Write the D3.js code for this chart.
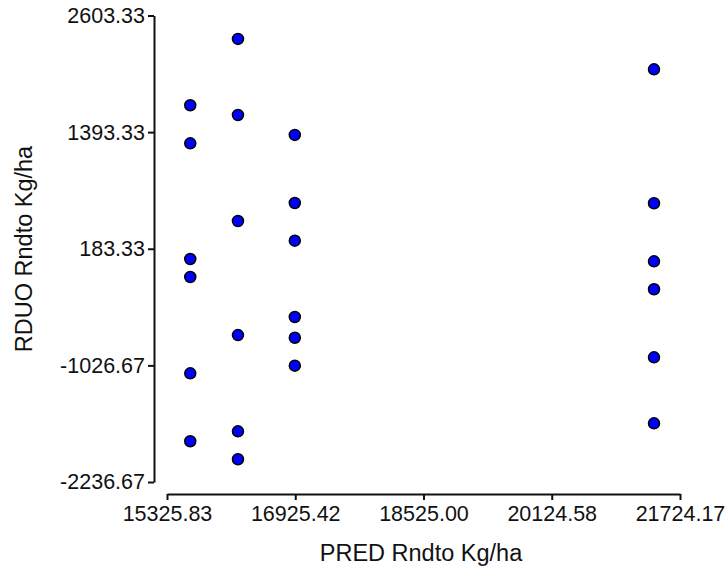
<!DOCTYPE html>
<html>
<head>
<meta charset="utf-8">
<script src="https://cdn.jsdelivr.net/npm/d3@7/dist/d3.min.js"></script>
<style>
  html, body { margin: 0; padding: 0; background: #fff; }
  svg { display: block; }
  text { font-family: "Liberation Sans", Arial, sans-serif; fill: #111; }
</style>
</head>
<body>
<svg id="chart" width="725" height="574"></svg>
<script>
// Predicted yield (x) against residual (y), both in Kg/ha
const predValues = [
  15616, 15616, 15616, 15616, 15616, 15616,
  16211, 16211, 16211, 16211, 16211, 16211,
  16920, 16920, 16920, 16920, 16920, 16920,
  21400, 21400, 21400, 21400, 21400, 21400
];
const residValues = [
  1672, 1277, 77, -110, -1109, -1814,
  2360, 1571, 471, -712, -1711, -2001,
  1364, 658, 267, -525, -740, -1030,
  2045, 655, 53, -237, -943, -1628
];
const xTicks = [15325.83, 16925.42, 18525.00, 20124.58, 21724.17];
const yTicks = [-2236.67, -1026.67, 183.33, 1393.33, 2603.33];
const xTitle = "PRED Rndto Kg/ha";
const yTitle = "RDUO Rndto Kg/ha";

const svg = d3.select("#chart");

const x = d3.scaleLinear().domain([xTicks[0], xTicks[xTicks.length - 1]]).range([167, 680]);
const y = d3.scaleLinear().domain([yTicks[0], yTicks[yTicks.length - 1]]).range([482, 15.5]);

const yAxisX = 154;
const xAxisY = 494;

// two decimals, plain hyphen for negatives
const fmt = d3.formatLocale({ decimal: ".", thousands: "", grouping: [3], currency: ["", ""], minus: "-" }).format(".2f");

// Y axis
const gy = svg.append("g")
  .attr("transform", `translate(${yAxisX},0)`)
  .call(d3.axisLeft(y).tickValues(yTicks).tickFormat(fmt).tickSize(6).tickSizeOuter(0).tickPadding(3));

// X axis
const gx = svg.append("g")
  .attr("transform", `translate(0,${xAxisY})`)
  .call(d3.axisBottom(x).tickValues(xTicks).tickFormat(fmt).tickSize(6).tickSizeOuter(0).tickPadding(6));

[gx, gy].forEach(g => {
  g.select(".domain").attr("stroke", "#111").attr("stroke-width", 2);
  g.selectAll(".tick line").attr("stroke", "#111").attr("stroke-width", 2);
  g.selectAll(".tick text")
    .attr("fill", "#111")
    .style("font-family", '"Liberation Sans", Arial, sans-serif')
    .style("font-size", "21.5px");
});

// Axis titles
svg.append("text")
  .attr("x", 421)
  .attr("y", 561)
  .attr("text-anchor", "middle")
  .style("font-size", "23.5px")
  .text(xTitle);

svg.append("text")
  .attr("transform", "translate(32,249) rotate(-90)")
  .attr("text-anchor", "middle")
  .style("font-size", "23.5px")
  .text(yTitle);

// Points
svg.append("g")
  .selectAll("circle")
  .data(predValues.map((p, i) => [p, residValues[i]]))
  .join("circle")
  .attr("cx", d => x(d[0]))
  .attr("cy", d => y(d[1]))
  .attr("r", 5.5)
  .attr("fill", "#0000ff")
  .attr("stroke", "#000")
  .attr("stroke-width", 1.5);
</script>
</body>
</html>
